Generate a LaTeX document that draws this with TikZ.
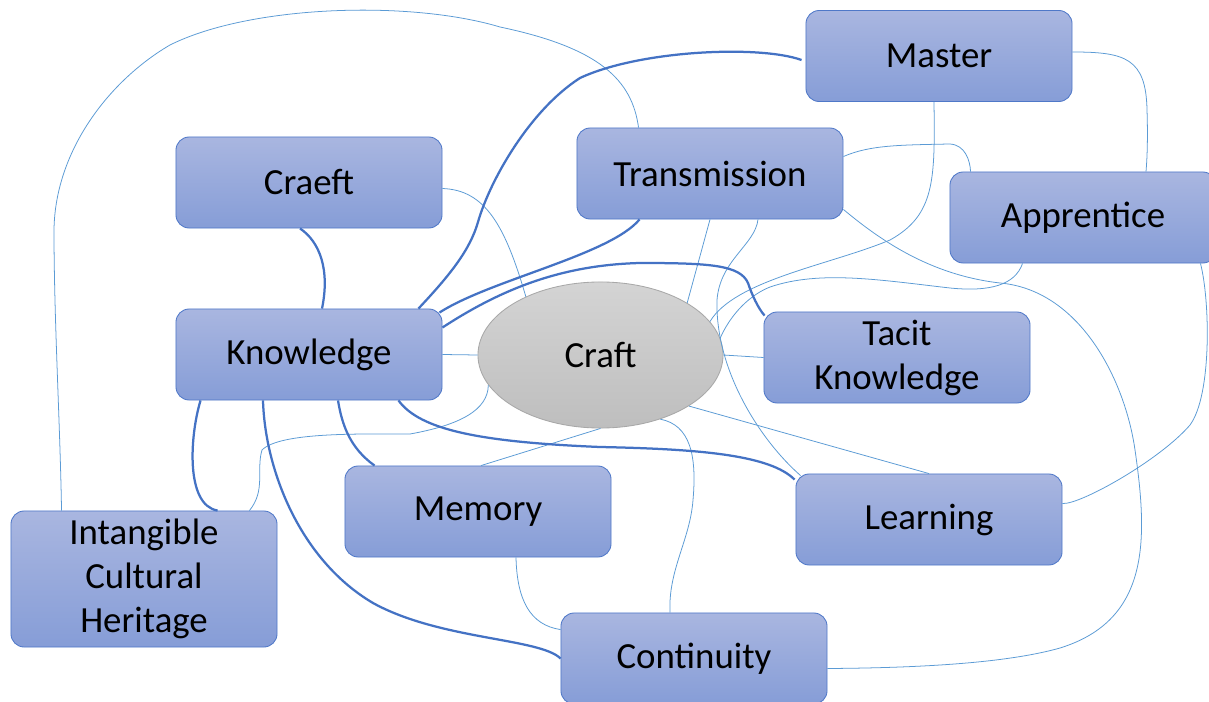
\documentclass[tikz,border=0pt]{standalone}
\usepackage{fontspec}
\setmainfont{Carlito}
\usetikzlibrary{shapes.geometric, calc}
\definecolor{boxtop}{HTML}{A9B6E0}
\definecolor{boxbot}{HTML}{869DD7}
\definecolor{boxline}{HTML}{4F78C8}
\definecolor{hubtop}{HTML}{D4D4D4}
\definecolor{hubbot}{HTML}{BEBEBE}
\definecolor{hubline}{HTML}{A8A8A8}
\definecolor{darklink}{HTML}{4472C4}
\definecolor{palelink}{HTML}{5B9BD5}

\newcommand{\nodefont}{\fontsize{26.2}{31.3}\selectfont}

\begin{document}
\begin{tikzpicture}[x=0.025cm, y=-0.025cm,
  box/.style={rectangle, rounded corners=0.33cm, draw=boxline, line width=0.6pt,
    top color=boxtop, bottom color=boxbot, minimum width=6.65cm,
    minimum height=2.275cm, align=center, font=\nodefont, inner sep=2pt},
  hub/.style={ellipse, draw=hubline, line width=0.6pt, top color=hubtop,
    bottom color=hubbot, minimum width=6.125cm, minimum height=3.65cm,
    inner sep=0pt, font=\nodefont},
  thicklink/.style={darklink, line width=1.6pt},
  thinlink/.style={palelink, line width=0.55pt}]

% Canvas
\path[use as bounding box, fill=white] (0,0) rectangle (1209,702);

% Concepts
\node[box] (master) at (939,56) {Master};
\node[box] (transmission) at (710,173.5) {Transmission};
\node[box] (craeft) at (309,182.5) {Craeft};
\node[box] (apprentice) at (1083,217.5) {Apprentice};
\node[box] (knowledge) at (309,354.5) {Knowledge};
\node[hub] (craft) at (600.5,355) {Craft};
\node[box] (tacit) at (897,357.5) {Tacit\\Knowledge};
\node[box] (memory) at (478,511.5) {Memory};
\node[box] (learning) at (929,519.5) {Learning};
\node[box, minimum height=3.4cm] (ich) at (144,579) {Intangible\\Cultural\\Heritage};
\node[box] (continuity) at (694,658.5) {Continuity};

% Thin links
\draw[thinlink] (knowledge.east) -- (craft.west);
\draw[thinlink] (craft.east) -- (tacit.west);
\draw[thinlink] ($(craeft.east)+(0,6)$) .. controls (485,190) and (505,225) .. (craft.142);
\draw[thinlink] ($(transmission.north west)+(62,0)$) .. controls (632,80) and (600,48) .. (500,27)
  .. controls (410,0) and (250,5) .. (170,45) .. controls (110,80) and (55,150) .. (54,230)
  .. controls (54,320) and (60,420) .. ($(ich.north west)+(51,0)$);
\draw[thinlink] ($(master.east)+(0,-4)$) .. controls (1125,52) and (1146,58) .. (1147,110)
  .. controls (1148,140) and (1147,160) .. ($(apprentice.north)+(63,0)$);
\draw[thinlink] ($(master.south)+(-5,0)$) .. controls (935,180) and (935,215) .. (890,240)
  .. controls (830,265) and (735,280) .. (craft.17);
\draw[thinlink] ($(transmission.east)+(0,-17)$) .. controls (870,145) and (900,145) .. (950,144)
  .. controls (965,145) and (970,160) .. ($(apprentice.north west)+(21,0)$);
\draw[thinlink] ($(transmission.east)+(0,36)$) .. controls (880,240) and (930,275) .. (1000,283)
  .. controls (1080,290) and (1125,380) .. (1135,450) .. controls (1148,540) and (1150,620) .. (1060,648)
  .. controls (1000,665) and (900,668) .. ($(continuity.east)+(0,10)$);
\draw[thinlink] (transmission.south) -- (craft.31);
\draw[thinlink] ($(transmission.south)+(48,0)$) .. controls (755,245) and (720,260) .. (717,300)
  .. controls (715,370) and (760,440) .. ($(learning.north west)+(5,2)$);
\draw[thinlink] (craft.330) -- (learning.north);
\draw[thinlink] (craft.313) .. controls (690,425) and (697,455) .. (693,500)
  .. controls (690,540) and (668,570) .. ($(continuity.north)+(-24,0)$);
\draw[thinlink] (craft.south) -- ($(memory.north)+(3,0)$);
\draw[thinlink] ($(memory.south)+(38,0)$) .. controls (517,600) and (530,625) .. ($(continuity.north west)+(0,17)$);
\draw[thinlink] (craft.195) .. controls (488,410) and (460,425) .. (410,434)
  .. controls (360,434) and (280,432) .. (262,450) .. controls (256,470) and (266,490) .. ($(ich.north east)+(-28,0)$);
\draw[thinlink] ($(learning.east)+(0,-16)$) .. controls (1080,505) and (1160,460) .. (1190,425)
  .. controls (1212,395) and (1210,300) .. ($(apprentice.south east)+(-16,0)$);
\draw[thinlink] ($(apprentice.south west)+(73,0)$) .. controls (1015,285) and (990,292) .. (950,288)
  .. controls (880,280) and (820,270) .. (770,287) .. controls (745,297) and (728,320) .. (craft.8);

% Thick links out of Knowledge
\draw[thicklink] ($(craeft.south)+(-9,0)$) .. controls (320,242) and (330,270) .. ($(knowledge.north)+(13,0)$);
\draw[thicklink] ($(knowledge.north east)+(-24,0)$) .. controls (450,275) and (470,250) .. (478,222)
  .. controls (490,180) and (530,110) .. (580,78) .. controls (640,50) and (760,45) .. ($(master.west)+(-4,4)$);
\draw[thicklink] ($(knowledge.north east)+(-3,4)$) .. controls (490,280) and (610,255) .. ($(transmission.south west)+(63,0)$);
\draw[thicklink] ($(knowledge.east)+(0,-27)$) .. controls (500,290) and (560,265) .. (640,263)
  .. controls (710,263) and (740,265) .. (748,283) .. controls (752,295) and (758,308) .. ($(tacit.north west)+(1,4)$);
\draw[thicklink] ($(knowledge.south east)+(-44,0)$) .. controls (420,430) and (480,442) .. (600,447)
  .. controls (700,449) and (770,455) .. ($(learning.north west)+(-1,6)$);
\draw[thicklink] ($(knowledge.south)+(29,0)$) .. controls (342,425) and (350,448) .. ($(memory.north west)+(30,0)$);
\draw[thicklink] ($(knowledge.south west)+(25,0)$) .. controls (190,435) and (185,505) .. ($(ich.north west)+(207,0)$);
\draw[thicklink] ($(knowledge.south)+(-46,0)$) .. controls (265,470) and (300,560) .. (373,603)
  .. controls (440,640) and (540,638) .. (continuity.west);

\end{tikzpicture}
\end{document}
